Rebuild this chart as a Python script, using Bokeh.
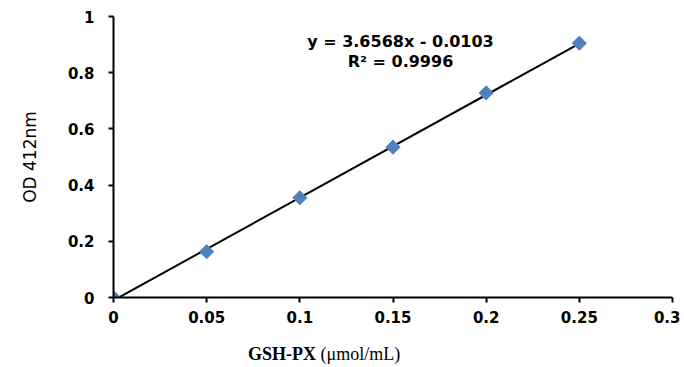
import numpy as np
from bokeh.plotting import figure
from bokeh.models import Label, FixedTicker, Range1d, Div
from bokeh.layouts import column
from bokeh.embed import file_html
from bokeh.resources import INLINE

# data
conc = [0.0, 0.05, 0.10, 0.15, 0.20, 0.25]
od = [0.0, 0.163, 0.355, 0.535, 0.728, 0.905]
slope = 3.6568
intercept = -0.0103
x_ticks = [0, 0.05, 0.1, 0.15, 0.2, 0.25, 0.3]
x_tick_labels = ["0", "0.05", "0.1", "0.15", "0.2", "0.25", "0.3"]
y_ticks = [0, 0.2, 0.4, 0.6, 0.8, 1.0]
y_tick_labels = ["0", "0.2", "0.4", "0.6", "0.8", "1"]
eq_text = "y = 3.6568x - 0.0103"
r2_text = "R\u00b2 = 0.9996"
x_title_bold = "GSH-PX"
x_title_rest = "(\u03bcmol/mL)"
y_title = "OD 412nm"

p = figure(width=680, height=338, output_backend="svg", toolbar_location=None,
           x_range=Range1d(0, 0.3), y_range=Range1d(0, 1),
           min_border_left=113, min_border_top=16, min_border_right=8, min_border_bottom=41)
p.outline_line_color = None
p.grid.visible = False
p.background_fill_color = "white"

for ax, ticks, labels in ((p.xaxis[0], x_ticks, x_tick_labels), (p.yaxis[0], y_ticks, y_tick_labels)):
    ax.ticker = FixedTicker(ticks=ticks)
    ax.major_label_overrides = {t: l for t, l in zip(ticks, labels)}
    ax.minor_tick_line_color = None
    ax.axis_line_width = 2
    ax.axis_line_color = "black"
    ax.major_tick_line_width = 2
    ax.major_tick_line_color = "black"
    ax.major_tick_in = 0
    ax.major_tick_out = 5
    ax.major_label_text_font = "DejaVu Sans"
    ax.major_label_text_font_style = "bold"
    ax.major_label_text_font_size = "15px"
    ax.major_label_text_color = "black"
p.xaxis.major_label_standoff = 8
p.yaxis.major_label_standoff = 14

p.yaxis.axis_label = y_title
p.yaxis.axis_label_text_font = "DejaVu Sans"
p.yaxis.axis_label_text_font_style = "normal"
p.yaxis.axis_label_text_font_size = "17px"
p.yaxis.axis_label_text_color = "black"
p.yaxis.axis_label_standoff = 25

# trendline
xs = [conc[0], conc[-1]]
ys = [slope * x + intercept for x in xs]
p.line(xs, ys, line_color="black", line_width=2)

p.scatter(conc, od, marker="square", angle=np.pi / 4, size=10,
          fill_color="#4F81BD", line_color="#4F81BD")

p.add_layout(Label(x=0.154, y=0.911, text=eq_text, text_align="center", text_baseline="middle",
                   text_font="DejaVu Sans", text_font_style="bold", text_font_size="16px", text_color="black"))
p.add_layout(Label(x=0.154, y=0.840, text=r2_text, text_align="center", text_baseline="middle",
                   text_font="DejaVu Sans", text_font_style="bold", text_font_size="16px", text_color="black"))

title_div = Div(text=f"<b>{x_title_bold}</b> {x_title_rest}", width=300, height=24,
                margin=(6, 0, 0, 248),
                styles={"font-family": "Liberation Serif", "font-size": "18px", "color": "black",
                        "line-height": "20px", "white-space": "nowrap"})

layout = column(p, title_div)
open("out.html", "w").write(file_html(layout, INLINE))
